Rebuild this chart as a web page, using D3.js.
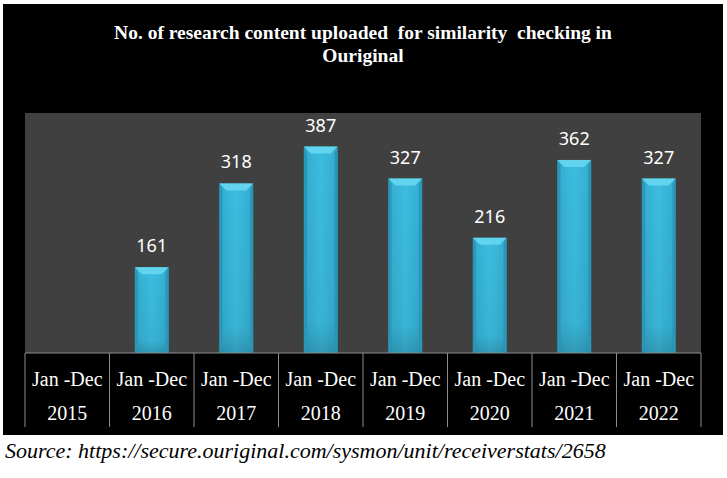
<!DOCTYPE html>
<html>
<head>
<meta charset="utf-8">
<script src="https://cdn.jsdelivr.net/npm/d3@7"></script>
<style>
  body { margin: 0; background: #fff; }
  svg { display: block; }
</style>
</head>
<body>
<svg id="grafico" width="727" height="478"></svg>
<script>
// valores (2015 sem barra)
const periodos = ["Jan -Dec", "Jan -Dec", "Jan -Dec", "Jan -Dec", "Jan -Dec", "Jan -Dec", "Jan -Dec", "Jan -Dec"];
const anos = ["2015", "2016", "2017", "2018", "2019", "2020", "2021", "2022"];
const valores = [null, 161, 318, 387, 327, 216, 362, 327];
const eixoY = [0, 450];

const svg = d3.select('#grafico');

// fundo preto do grafico
svg.append('rect')
  .attr('x', 3).attr('y', 4)
  .attr('width', 720).attr('height', 431)
  .attr('fill', '#000');

svg.append('text')
  .attr('x', 363).attr('y', 39)
  .attr('text-anchor', 'middle')
  .attr('fill', '#fff')
  .style('font', 'bold 19.5px "Liberation Serif", serif')
  .attr('xml:space', 'preserve')
  .text('No. of research content uploaded  for similarity  checking in');
svg.append('text')
  .attr('x', 363).attr('y', 62)
  .attr('text-anchor', 'middle')
  .attr('fill', '#fff')
  .style('font', 'bold 19.5px "Liberation Serif", serif')
  .text('Ouriginal');

const esq = 25, dir = 701, topo = 113, base = 353;

const fnx = d3.scaleBand()
  .domain(anos)
  .range([esq, dir])
  .paddingInner(0).paddingOuter(0);

const fny = d3.scaleLinear()
  .domain(eixoY)
  .range([base, topo]);

svg.append('rect')
  .attr('x', esq).attr('y', topo)
  .attr('width', dir - esq).attr('height', base - topo)
  .attr('fill', '#404040');

// gradiente das barras
const defs = svg.append('defs');
const grad = defs.append('linearGradient').attr('id', 'corpo')
  .attr('x1', 0).attr('x2', 1).attr('y1', 0).attr('y2', 0);
grad.append('stop').attr('offset', '0%').attr('stop-color', '#2a93b3');
grad.append('stop').attr('offset', '12%').attr('stop-color', '#35b0d3');
grad.append('stop').attr('offset', '50%').attr('stop-color', '#3cbde0');
grad.append('stop').attr('offset', '88%').attr('stop-color', '#35b0d3');
grad.append('stop').attr('offset', '100%').attr('stop-color', '#2a93b3');

const gradV = defs.append('linearGradient').attr('id', 'sombra')
  .attr('x1', 0).attr('x2', 0).attr('y1', 0).attr('y2', 1);
gradV.append('stop').attr('offset', '0%').attr('stop-color', '#000').attr('stop-opacity', 0);
gradV.append('stop').attr('offset', '85%').attr('stop-color', '#000').attr('stop-opacity', 0.05);
gradV.append('stop').attr('offset', '100%').attr('stop-color', '#000').attr('stop-opacity', 0.18);

const dados = anos.map((a, i) => ({ ano: a, valor: valores[i] })).filter(d => d.valor != null);
const larg = fnx.bandwidth() * 0.4;
const bx = d => fnx(d.ano) + (fnx.bandwidth() - larg) / 2;
const bev = 7;

const barras = svg.selectAll('.coluna')
  .data(dados)
  .join('g')
  .attr('class', 'coluna');

barras.append('rect')
  .attr('x', bx)
  .attr('y', d => fny(d.valor))
  .attr('width', larg)
  .attr('height', d => base - fny(d.valor))
  .attr('fill', 'url(#corpo)');

barras.append('rect')
  .attr('x', bx)
  .attr('y', d => fny(d.valor))
  .attr('width', larg)
  .attr('height', d => base - fny(d.valor))
  .attr('fill', 'url(#sombra)');

// chanfro de cima
barras.append('polygon')
  .attr('points', d => {
    const x0 = bx(d), x1 = x0 + larg, y0 = fny(d.valor);
    return [[x0, y0], [x1, y0], [x1 - bev, y0 + bev], [x0 + bev, y0 + bev]].join(' ');
  })
  .attr('fill', '#62d4ee');

// chanfros laterais
barras.append('polygon')
  .attr('points', d => {
    const x0 = bx(d), y0 = fny(d.valor);
    return [[x0, y0], [x0 + 3, y0 + bev], [x0 + 3, base - 3], [x0, base]].join(' ');
  })
  .attr('fill', '#2b97b8');
barras.append('polygon')
  .attr('points', d => {
    const x1 = bx(d) + larg, y0 = fny(d.valor);
    return [[x1, y0], [x1 - 3, y0 + bev], [x1 - 3, base - 3], [x1, base]].join(' ');
  })
  .attr('fill', '#2b97b8');

svg.selectAll('.rotulo')
  .data(dados)
  .join('text')
  .attr('class', 'rotulo')
  .attr('x', d => fnx(d.ano) + fnx.bandwidth() / 2)
  .attr('y', d => fny(d.valor) - 15)
  .attr('text-anchor', 'middle')
  .attr('fill', '#fff')
  .style('font', '18px "Noto Sans", sans-serif')
  .text(d => d.valor);

// tabela de categorias
const linha = '#8c8c8c';
svg.append('line')
  .attr('x1', esq).attr('x2', dir)
  .attr('y1', base).attr('y2', base)
  .attr('stroke', linha).attr('stroke-width', 1);

const bordas = anos.map(a => fnx(a)).concat([dir]);
svg.selectAll('.divisa')
  .data(bordas)
  .join('line')
  .attr('class', 'divisa')
  .attr('x1', d => d).attr('x2', d => d)
  .attr('y1', base).attr('y2', 427)
  .attr('stroke', linha).attr('stroke-width', 1);

svg.selectAll('.periodo')
  .data(anos)
  .join('text')
  .attr('class', 'periodo')
  .attr('x', d => fnx(d) + fnx.bandwidth() / 2)
  .attr('y', 386)
  .attr('text-anchor', 'middle')
  .attr('fill', '#fff')
  .style('font', '20px "Liberation Serif", serif')
  .text((d, i) => periodos[i]);

svg.selectAll('.ano')
  .data(anos)
  .join('text')
  .attr('class', 'ano')
  .attr('x', d => fnx(d) + fnx.bandwidth() / 2)
  .attr('y', 420)
  .attr('text-anchor', 'middle')
  .attr('fill', '#fff')
  .style('font', '20px "Liberation Serif", serif')
  .text(d => d);

svg.append('text')
  .attr('x', 5).attr('y', 458)
  .attr('fill', '#000')
  .style('font', 'italic 22px "Liberation Serif", serif')
  .text('Source: https://secure.ouriginal.com/sysmon/unit/receiverstats/2658');
</script>
</body>
</html>
